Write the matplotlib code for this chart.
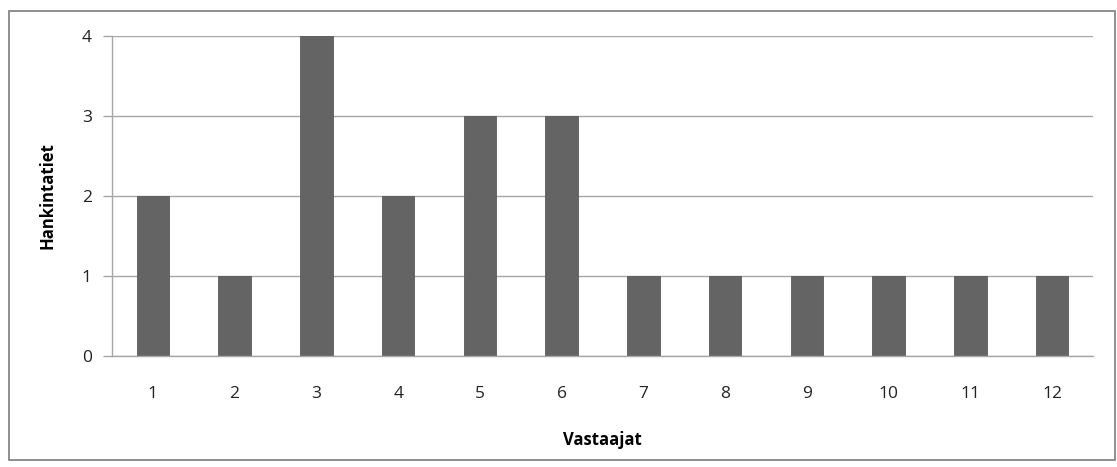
import matplotlib
matplotlib.use("Agg")
import matplotlib.pyplot as plt
from matplotlib.patches import Rectangle

# Data
respondents = ["1", "2", "3", "4", "5", "6", "7", "8", "9", "10", "11", "12"]
sourcing_routes = [2, 1, 4, 2, 3, 3, 1, 1, 1, 1, 1, 1]
y_ticks = [0, 1, 2, 3, 4]

plt.rcParams["font.family"] = ["Open Sans", "DejaVu Sans"]

W, H = 1117, 467
fig = plt.figure(figsize=(W / 100, H / 100), dpi=100)
fig.patch.set_facecolor("white")

# outer chart frame
fig.add_artist(Rectangle((9 / W, 1 - 460 / H), (1115 - 9) / W, (460 - 11) / H,
                         transform=fig.transFigure, fill=False,
                         edgecolor="#868686", linewidth=1.3))

ax = fig.add_axes([112 / W, 1 - 355.5 / H, (1093 - 112) / W, (355.5 - 36) / H])
x = list(range(len(respondents)))
ax.bar(x, sourcing_routes, width=0.40, color="#646464", edgecolor="#5a5a5a",
       linewidth=0.6, zorder=3)

ax.set_xlim(-0.5, len(respondents) - 0.5)
ax.set_ylim(0, 4)
ax.set_yticks(y_ticks)
ax.set_xticks(x)
ax.set_xticklabels(respondents)

ax.yaxis.grid(True, color="#a6a6a6", linewidth=1.0, zorder=0)
for side in ["top", "right"]:
    ax.spines[side].set_visible(False)
for side in ["left", "bottom"]:
    ax.spines[side].set_color("#a6a6a6")
    ax.spines[side].set_linewidth(1.0)
    ax.spines[side].set_zorder(4)

ax.tick_params(axis="y", length=6.5, color="#a6a6a6", width=1.0, pad=8,
               labelsize=12.5, labelcolor="#222222")
ax.tick_params(axis="x", length=0, pad=22, labelsize=12.5, labelcolor="#222222")

ax.set_ylabel("Hankintatiet", fontsize=12, fontweight="bold", labelpad=18)
ax.set_xlabel("Vastaajat", fontsize=12, fontweight="bold", labelpad=21)

fig.savefig("out.png", dpi=100, facecolor="white")
